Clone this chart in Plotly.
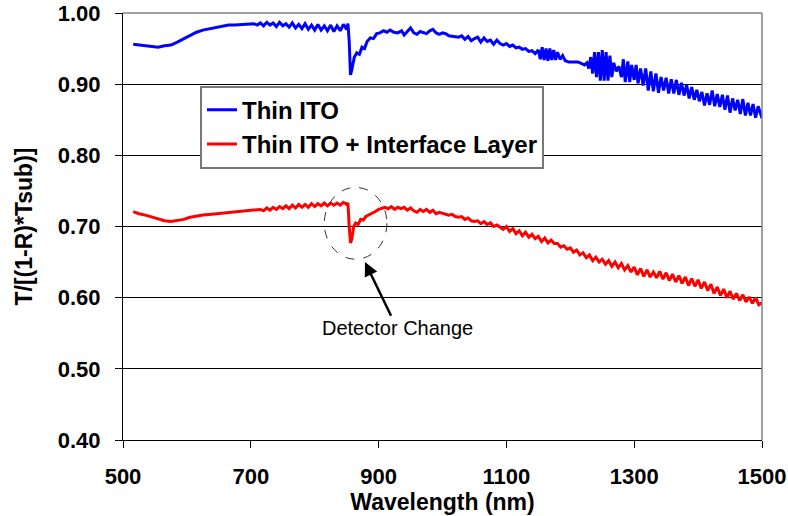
import plotly.graph_objects as go

# ---- data ----
wl_blue = [516, 525, 535, 545, 555, 565, 575, 585, 595, 605, 615, 625, 635, 645, 655, 665, 675, 685, 695, 705,
           710, 715, 720, 725, 730, 735, 740, 745, 750, 755, 760, 765, 770, 775, 780, 785, 790, 795, 800, 805,
           810, 815, 820, 825, 830, 835, 840, 845, 850, 852, 854, 856, 858, 862, 866, 870, 874, 878, 882, 887,
           892, 897, 902, 908, 913, 918, 924, 930, 936, 940, 946, 950, 955, 960, 965, 970, 975, 980, 985, 990,
           995, 1000, 1005, 1010, 1020, 1025, 1030, 1035, 1040, 1045, 1050, 1055, 1060, 1065, 1070, 1075, 1080, 1085, 1090, 1095,
           1100, 1105, 1110, 1115, 1120, 1125, 1130, 1135, 1140, 1145, 1150, 1153, 1156, 1159, 1162, 1165, 1168, 1171, 1174, 1177,
           1180, 1184, 1188, 1192, 1198, 1205, 1212, 1218, 1222, 1226, 1229, 1232, 1235, 1238, 1241, 1244, 1247, 1250, 1253, 1256,
           1259, 1262, 1265, 1268, 1272, 1276, 1280, 1283, 1286, 1290, 1293, 1296, 1300, 1303, 1306, 1310, 1314, 1318, 1322, 1326,
           1330, 1334, 1338, 1342, 1346, 1350, 1354, 1358, 1362, 1366, 1370, 1374, 1378, 1382, 1386, 1390, 1394, 1398, 1402, 1406,
           1410, 1414, 1418, 1422, 1426, 1430, 1434, 1438, 1442, 1446, 1450, 1454, 1458, 1462, 1466, 1470, 1474, 1478, 1482, 1486,
           1490, 1494, 1497, 1500]
t_blue = [0.956, 0.955, 0.954, 0.953, 0.952, 0.954, 0.955, 0.959, 0.964, 0.969, 0.973, 0.976, 0.978, 0.980, 0.981, 0.983, 0.983, 0.984, 0.984, 0.985,
          0.983, 0.986, 0.982, 0.987, 0.983, 0.986, 0.981, 0.987, 0.982, 0.985, 0.980, 0.986, 0.979, 0.984, 0.978, 0.985, 0.977, 0.983, 0.976, 0.984,
          0.976, 0.982, 0.975, 0.983, 0.974, 0.982, 0.975, 0.984, 0.977, 0.985, 0.960, 0.913, 0.920, 0.938, 0.944, 0.942, 0.952, 0.950, 0.960, 0.965,
          0.964, 0.971, 0.972, 0.975, 0.973, 0.976, 0.973, 0.972, 0.975, 0.969, 0.975, 0.979, 0.972, 0.970, 0.974, 0.973, 0.971, 0.975, 0.977, 0.972,
          0.970, 0.972, 0.971, 0.968, 0.967, 0.966, 0.968, 0.963, 0.967, 0.961, 0.964, 0.966, 0.959, 0.965, 0.960, 0.962, 0.956, 0.962, 0.957, 0.955,
          0.957, 0.953, 0.955, 0.951, 0.952, 0.949, 0.950, 0.946, 0.947, 0.943, 0.948, 0.935, 0.952, 0.934, 0.950, 0.933, 0.950, 0.934, 0.948, 0.934,
          0.945, 0.935, 0.940, 0.933, 0.931, 0.931, 0.931, 0.929, 0.927, 0.930, 0.922, 0.938, 0.915, 0.945, 0.910, 0.945, 0.905, 0.948, 0.905, 0.945,
          0.905, 0.940, 0.910, 0.930, 0.918, 0.925, 0.910, 0.935, 0.903, 0.932, 0.903, 0.927, 0.906, 0.927, 0.901, 0.922, 0.898, 0.922, 0.891, 0.918,
          0.890, 0.915, 0.888, 0.910, 0.891, 0.909, 0.887, 0.907, 0.887, 0.906, 0.885, 0.902, 0.884, 0.899, 0.880, 0.896, 0.878, 0.892, 0.876, 0.889,
          0.870, 0.887, 0.871, 0.891, 0.869, 0.886, 0.868, 0.885, 0.864, 0.884, 0.860, 0.880, 0.863, 0.878, 0.858, 0.879, 0.856, 0.874, 0.856, 0.872,
          0.853, 0.869, 0.860, 0.852]

wl_red = [516, 525, 535, 545, 555, 565, 575, 585, 595, 605, 615, 625, 635, 645, 655, 665, 675, 685, 695, 705,
          715, 720, 725, 730, 735, 740, 745, 750, 755, 760, 765, 770, 775, 780, 785, 790, 795, 800, 805, 810,
          815, 820, 825, 830, 835, 840, 845, 850, 852, 854, 856, 858, 861, 864, 868, 872, 876, 880, 885, 890,
          895, 900, 905, 910, 915, 920, 925, 930, 935, 940, 945, 950, 955, 960, 965, 970, 975, 980, 985, 990,
          995, 1000, 1005, 1010, 1015, 1020, 1025, 1030, 1035, 1040, 1045, 1050, 1055, 1060, 1065, 1070, 1075, 1080, 1085, 1090,
          1095, 1100, 1105, 1110, 1115, 1120, 1125, 1130, 1135, 1140, 1145, 1150, 1155, 1160, 1165, 1170, 1175, 1180, 1185, 1190,
          1195, 1200, 1205, 1210, 1215, 1220, 1225, 1230, 1235, 1240, 1245, 1250, 1255, 1260, 1265, 1270, 1275, 1280, 1285, 1290,
          1295, 1300, 1305, 1310, 1315, 1320, 1325, 1330, 1335, 1340, 1345, 1350, 1355, 1360, 1365, 1370, 1375, 1380, 1385, 1390,
          1395, 1400, 1405, 1410, 1415, 1420, 1425, 1430, 1435, 1440, 1445, 1450, 1455, 1460, 1465, 1470, 1475, 1480, 1485, 1490,
          1495, 1500]
t_red = [0.721, 0.718, 0.716, 0.713, 0.710, 0.708, 0.707, 0.708, 0.710, 0.713, 0.715, 0.716, 0.717, 0.718, 0.719, 0.720, 0.721, 0.721, 0.722, 0.723,
         0.724, 0.722, 0.726, 0.723, 0.727, 0.724, 0.728, 0.725, 0.729, 0.725, 0.730, 0.726, 0.731, 0.727, 0.731, 0.727, 0.732, 0.728, 0.732, 0.729,
         0.733, 0.729, 0.733, 0.730, 0.733, 0.730, 0.734, 0.731, 0.733, 0.700, 0.677, 0.682, 0.700, 0.705, 0.703, 0.710, 0.709, 0.714, 0.716, 0.718,
         0.721, 0.724, 0.726, 0.727, 0.725, 0.728, 0.724, 0.727, 0.725, 0.727, 0.723, 0.726, 0.722, 0.720, 0.724, 0.721, 0.724, 0.720, 0.723, 0.718,
         0.720, 0.719, 0.718, 0.716, 0.717, 0.714, 0.713, 0.714, 0.710, 0.712, 0.708, 0.707, 0.708, 0.704, 0.707, 0.703, 0.705, 0.700, 0.702, 0.699,
         0.696, 0.700, 0.693, 0.697, 0.690, 0.694, 0.687, 0.692, 0.685, 0.689, 0.683, 0.686, 0.679, 0.684, 0.677, 0.681, 0.676, 0.676, 0.671, 0.673,
         0.668, 0.670, 0.664, 0.667, 0.660, 0.663, 0.656, 0.660, 0.652, 0.657, 0.650, 0.654, 0.647, 0.652, 0.644, 0.650, 0.642, 0.648, 0.639, 0.645,
         0.636, 0.643, 0.632, 0.641, 0.630, 0.639, 0.629, 0.636, 0.628, 0.637, 0.626, 0.635, 0.624, 0.633, 0.622, 0.631, 0.620, 0.629, 0.617, 0.627,
         0.616, 0.625, 0.613, 0.622, 0.610, 0.619, 0.606, 0.615, 0.603, 0.612, 0.600, 0.609, 0.598, 0.606, 0.596, 0.604, 0.594, 0.601, 0.592, 0.600,
         0.590, 0.593]

x_ticks = [500, 700, 900, 1100, 1300, 1500]
y_ticks = [0.40, 0.50, 0.60, 0.70, 0.80, 0.90, 1.00]

FONT = "Liberation Sans, Arial, sans-serif"

fig = go.Figure()
fig.add_trace(go.Scatter(x=wl_blue, y=t_blue, mode="lines", name="Thin ITO",
                         line=dict(color="#0000FF", width=3), legendgroup="a"))
fig.add_trace(go.Scatter(x=wl_red, y=t_red, mode="lines", name="Thin ITO + Interface Layer",
                         line=dict(color="#FF0000", width=3), legendgroup="b"))

# dashed ellipse around detector change
fig.add_shape(type="circle", xref="x", yref="y", x0=815, x1=913, y0=0.654, y1=0.755,
              line=dict(color="#333333", width=1, dash="dash"))
# border top/right (gray)
fig.add_shape(type="line", xref="paper", yref="paper", x0=0, x1=1, y0=1, y1=1,
              line=dict(color="#808080", width=1.5))
fig.add_shape(type="line", xref="paper", yref="paper", x0=1, x1=1, y0=0, y1=1,
              line=dict(color="#808080", width=1.5))

fig.add_annotation(x=878.7, y=0.650, ax=929, ay=0.557, axref="x", ayref="y",
                   text="Detector Change", showarrow=True, arrowhead=2, arrowsize=1.1,
                   arrowwidth=2.5, arrowcolor="black", standoff=0,
                   font=dict(family=FONT, size=20, color="black"))

fig.update_layout(
    width=788, height=516,
    margin=dict(l=123, r=26, t=13, b=76, pad=0, autoexpand=False),
    plot_bgcolor="white", paper_bgcolor="white",
    showlegend=True,
    legend=dict(x=0.1205, y=0.83, xanchor="left", yanchor="top",
                bgcolor="white", bordercolor="#777777", borderwidth=2,
                font=dict(family=FONT, size=24, color="black", weight="bold"),
                tracegroupgap=0, itemwidth=30),
    xaxis=dict(range=[500, 1500], tickvals=x_ticks, ticktext=[str(v) for v in x_ticks],
               automargin=False,
               showgrid=False, zeroline=False, showline=True, linecolor="black", linewidth=1,
               ticks="outside", ticklen=7, tickcolor="black", ticklabelstandoff=10,
               tickfont=dict(family=FONT, size=22, color="black", weight="bold"),
               title=dict(text="Wavelength (nm)", standoff=0,
                          font=dict(family=FONT, size=23, color="black", weight="bold"))),
    yaxis=dict(range=[0.40, 1.00], tickvals=y_ticks, ticktext=["%.2f" % v for v in y_ticks],
               automargin=False,
               showgrid=True, gridcolor="black", gridwidth=1, zeroline=False,
               showline=True, linecolor="black", linewidth=1,
               ticks="outside", ticklen=7, tickcolor="black", ticklabelstandoff=10,
               tickfont=dict(family=FONT, size=22, color="black", weight="bold"),
               title=dict(text="T/[(1-R)*Tsub)]", standoff=18,
                          font=dict(family=FONT, size=23, color="black", weight="bold"))),
)

fig.write_html("out.html")
